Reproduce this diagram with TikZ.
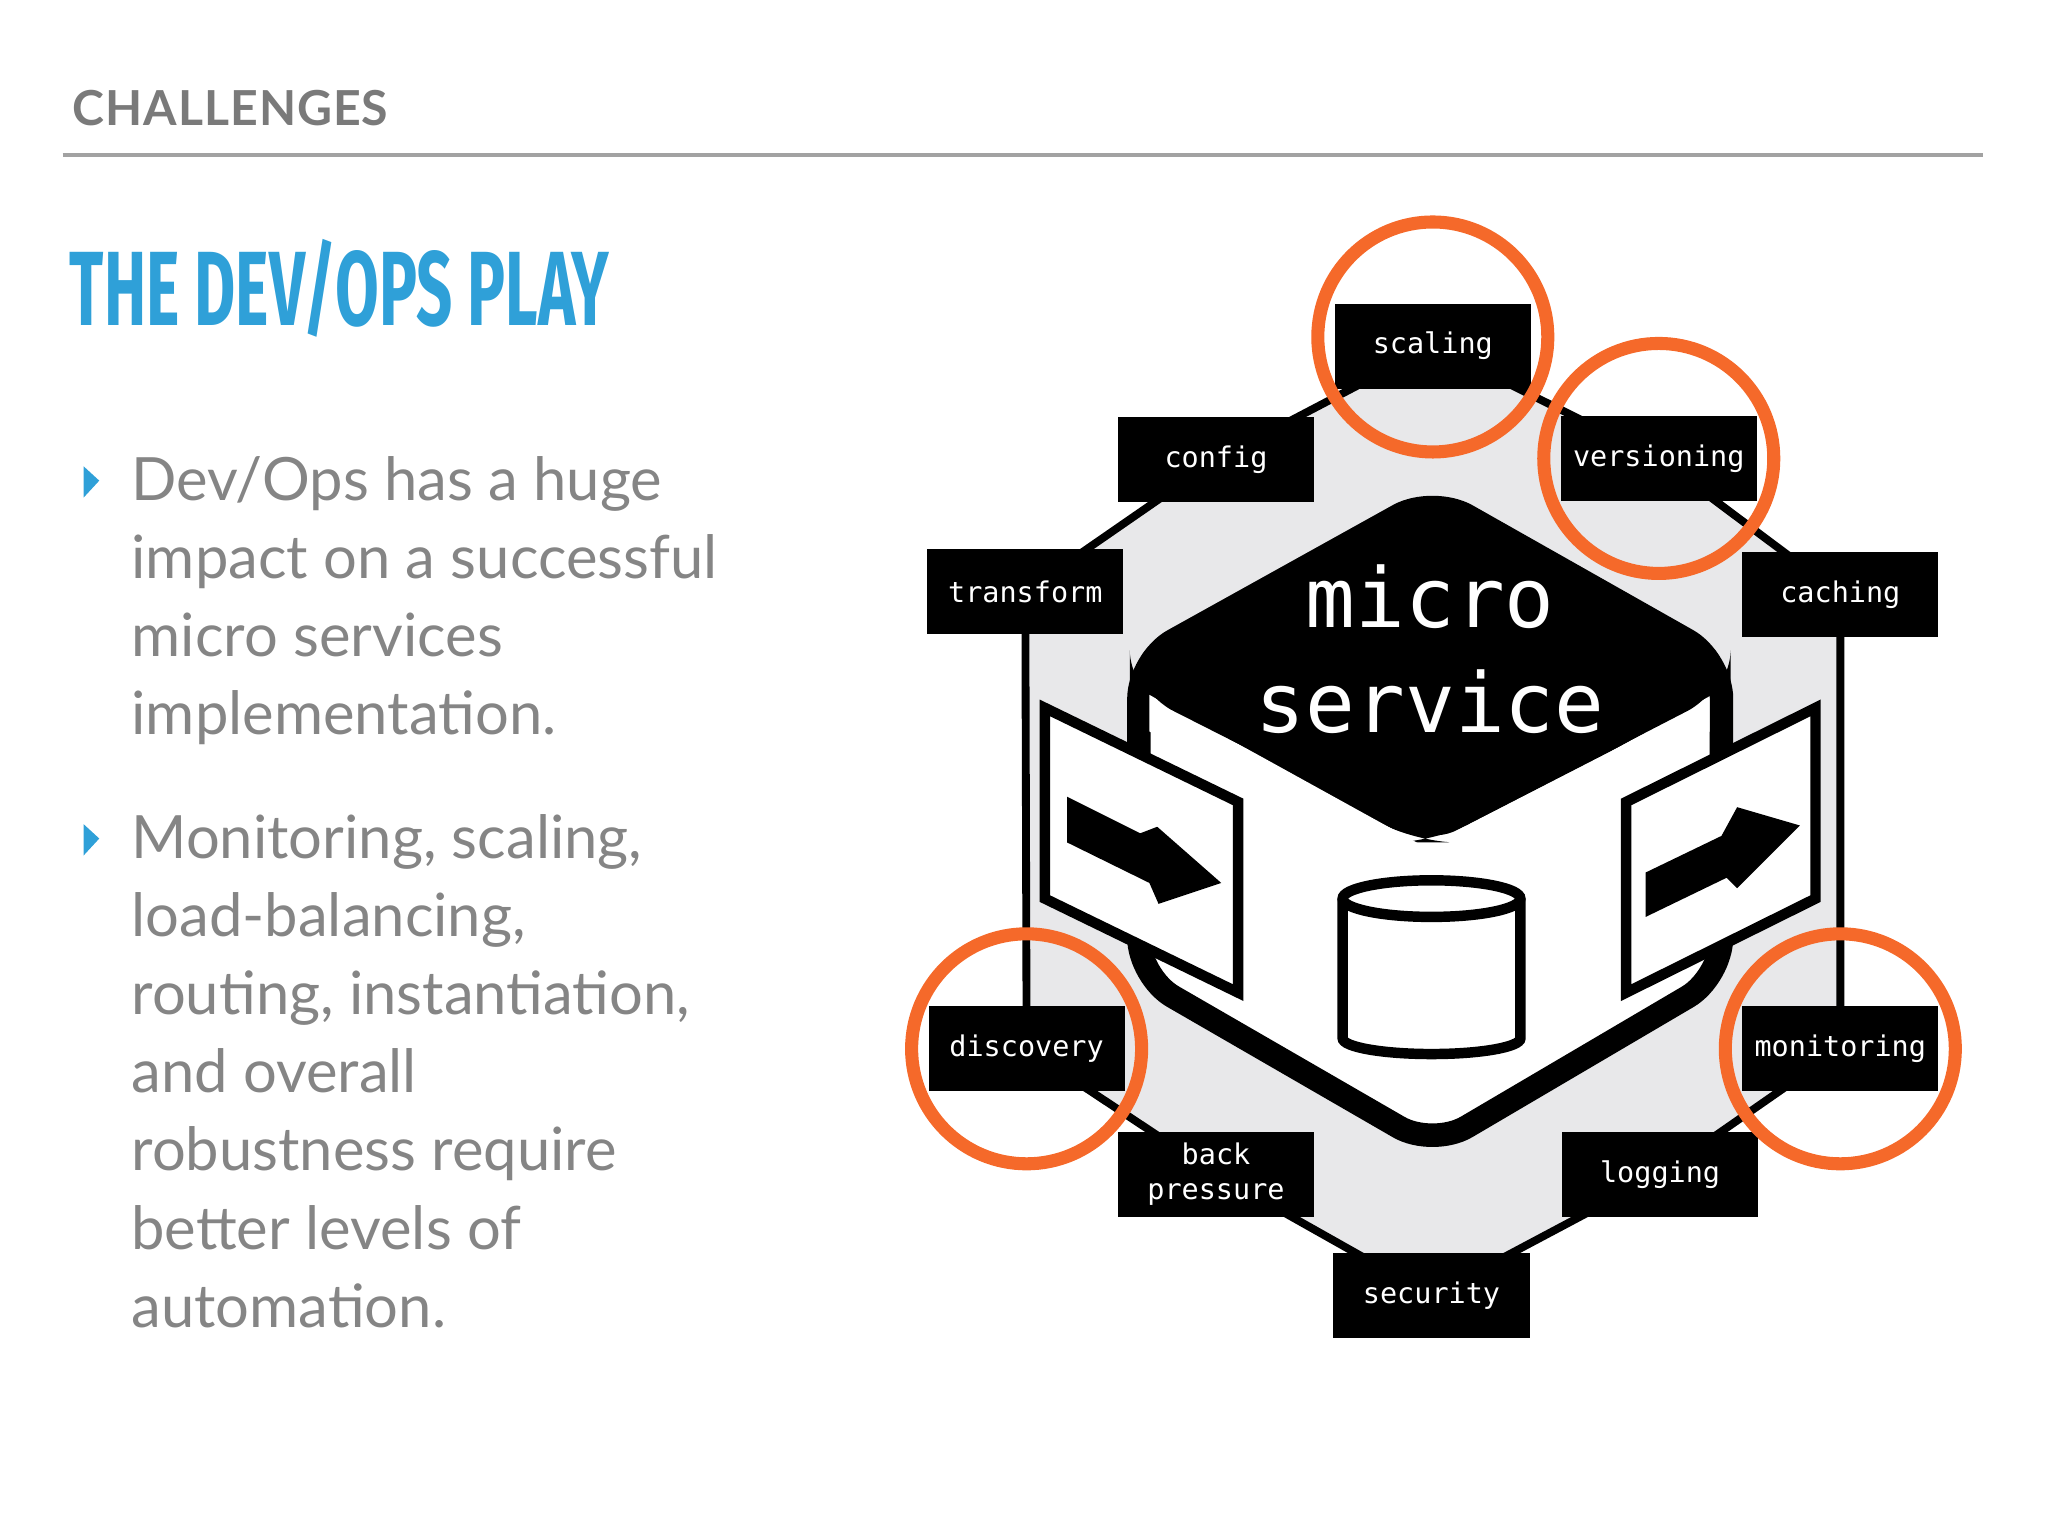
\documentclass[tikz,border=0pt]{standalone}
\usepackage{fontspec}
\setmainfont{Lato}
\newfontfamily\monof{DejaVu Sans Mono}
\newfontfamily\titlef{Fira Sans}
\usetikzlibrary{shapes.geometric}
\definecolor{hdgray}{HTML}{7A7A7A}
\definecolor{txgray}{HTML}{858585}
\definecolor{ttblue}{HTML}{2FA0D8}
\definecolor{orng}{HTML}{F5692A}
\definecolor{hexgray}{HTML}{E8E8EA}
\tikzset{
  lab/.style={fill=black,text=white,minimum width=1.5cm,minimum height=0.65cm,inner sep=0pt,align=center,font=\monof\fontsize{6.2}{7.5}\selectfont},
  ring/.style={draw=orng,line width=0.1cm},
  body/.style={text=txgray,font=\fontsize{13}{17}\selectfont,align=left,anchor=north west,inner sep=0pt},
  bulpath/.style={fill=ttblue}
}
\begin{document}
\begin{tikzpicture}[x=0.01cm,y=-0.01cm]
\useasboundingbox (0,0) rectangle (1568,1176);
% header
\node[anchor=west,text=hdgray,inner sep=0pt,font=\fontsize{10.5}{12}\selectfont\bfseries\addfontfeature{LetterSpace=2}] (hd) at (55,83) {CHALLENGES};
\coordinate (l1) at (48,119); \coordinate (l2) at (1518,119);
\draw[hdgray!70,line width=0.03cm] (l1) -- (l2);
\node[anchor=west,text=ttblue,inner sep=0pt,xscale=0.6,font=\titlef\bfseries\fontsize{23}{26}\selectfont] (tt) at (53,221) {THE DEV/OPS PLAY};
% bullets
\fill[bulpath] (64,357) -- (76,368) -- (64,381) -- cycle;
\node[body] (p1) at (100,349) {Dev/Ops has a huge\\impact on a successful\\micro services\\implementation.};
\fill[bulpath] (64,631) -- (76,642) -- (64,655) -- cycle;
\node[body] (p2) at (100,623) {Monitoring, scaling,\\load-balancing,\\routing, instantiation,\\and overall\\robustness require\\better levels of\\automation.};
% label nodes positions
\coordinate (cs) at (1097,265);
\coordinate (cc) at (931,352);
\coordinate (cv) at (1270,351);
\coordinate (ct) at (785,453);
\coordinate (ca) at (1409,455);
\coordinate (cd) at (786,803);
\coordinate (cm) at (1409,803);
\coordinate (cb) at (931,899);
\coordinate (cl) at (1271,899);
\coordinate (cy) at (1096,992);
\draw[fill=hexgray,line width=0.06cm] (cs) -- (cc) -- (ct) -- (cd) -- (cb) -- (cy) -- (cl) -- (cm) -- (ca) -- (cv) -- cycle;
% inner body
\draw[fill=white,line width=0.18cm,rounded corners=0.3cm] (1097,380) -- (1318,505) -- (1318,748) -- (1097,878) -- (872,748) -- (872,505) -- cycle;
\fill[rounded corners=0.3cm] (1097,375) -- (1325,503) -- (1325,528) -- (1097,645) -- (1085,645) -- (865,528) -- (865,503) -- cycle;
\fill[white] (880,532) -- (1090,648) -- (1104,648) -- (1309,533) -- (1309,560) -- (1097,680) -- (880,560) -- cycle;
\fill[rounded corners=0.2cm] (1097,375) -- (1325,503) -- (1310,535) -- (1097,645) -- (880,535) -- (865,503) -- cycle;
\node[text=white,font=\monof\fontsize{18}{23}\selectfont,align=center,inner sep=0pt] (ms) at (1095,497) {micro\\service};
% panels
\draw[fill=white,line width=0.08cm] (800,542) -- (948,614) -- (948,760) -- (800,688) -- cycle;
\fill (817,610) -- (873,638) -- (886,633) -- (935,676) -- (887,692) -- (880,676) -- (817,645) -- cycle;
\draw[fill=white,line width=0.08cm] (1245,614) -- (1390,542) -- (1390,688) -- (1245,760) -- cycle;
\fill (1260,668) -- (1318,640) -- (1330,618) -- (1378,632) -- (1330,680) -- (1322,672) -- (1260,702) -- cycle;
% cylinder
\draw[fill=white,line width=0.08cm] (1028,688) -- (1028,795) arc[start angle=180,end angle=360,x radius=0.68cm,y radius=0.12cm] -- (1164,688);
\draw[fill=white,line width=0.08cm] (1096,688) ellipse[x radius=0.68cm,y radius=0.14cm];
% labels
\node[lab] (scaling) at (cs) {scaling};
\node[lab] (config) at (cc) {config};
\node[lab] (versioning) at (cv) {versioning};
\node[lab] (transform) at (ct) {transform};
\node[lab] (caching) at (ca) {caching};
\node[lab] (discovery) at (cd) {discovery};
\node[lab] (monitoring) at (cm) {monitoring};
\node[lab] (back) at (cb) {back\\pressure};
\node[lab] (logging) at (cl) {logging};
\node[lab] (security) at (cy) {security};
% rings
\draw[ring] (scaling) ++(0,-7) circle[radius=0.88cm];
\draw[ring] (versioning) circle[radius=0.88cm];
\draw[ring] (discovery) circle[radius=0.88cm];
\draw[ring] (monitoring) circle[radius=0.88cm];
\end{tikzpicture}
\end{document}
